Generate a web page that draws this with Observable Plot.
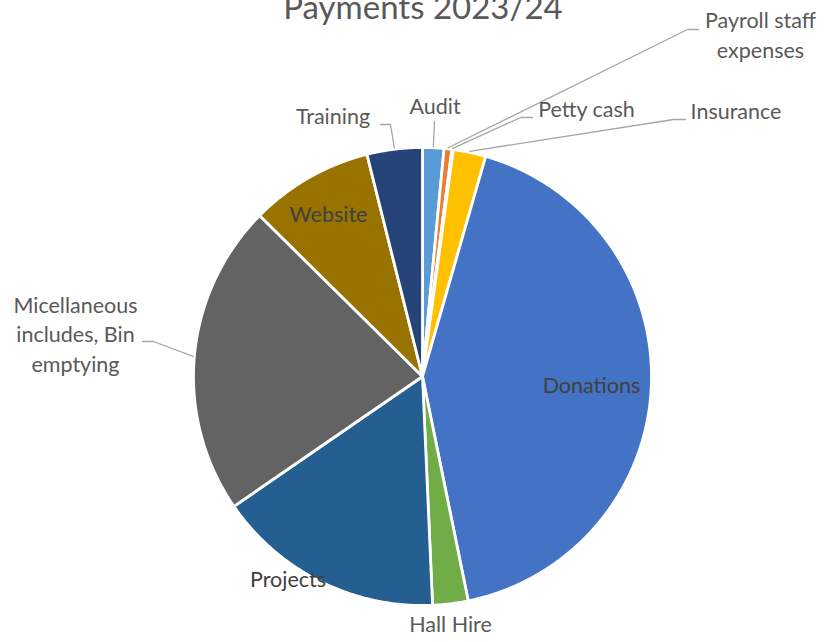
<!DOCTYPE html>
<html><head><meta charset="utf-8">
<script src="https://cdn.jsdelivr.net/npm/d3@7"></script>
<script src="https://cdn.jsdelivr.net/npm/@observablehq/plot@0.6"></script>
<style>body{margin:0;background:#fff;overflow:hidden}</style>
</head><body><div id="chart"></div>
<script>
// ---- data ----
const title = "Payments 2023/24";
const categories = ["Audit", "Payroll staff expenses", "Petty cash", "Insurance", "Donations",
  "Hall Hire", "Projects", "Micellaneous includes, Bin emptying", "Website", "Training"];
const shares = [1.5, 0.55, 0.1, 2.3, 42.35, 2.5, 16.1, 22.0, 8.7, 3.9];
const colors = ["#5B9BD5", "#ED7D31", "#A5A5A5", "#FFC000", "#4472C4",
  "#70AD47", "#255E91", "#636363", "#997300", "#264478"];
const labelTexts = ["Audit", "Payroll staff\nexpenses", "Petty cash", "Insurance", "Donations",
  "Hall Hire", "Projects", "Micellaneous\nincludes, Bin\nemptying", "Website", "Training"];

// ---- layout (pixels) ----
const W = 824, H = 642, CX = 422, CY = 376, R = 229;
const toX = px => (px - CX) / R, toY = py => (CY - py) / R;
// label baseline (last line) positions & text colour
const labelLayout = [
  {px: 434.5, py: 113, fill: "#595959"},
  {px: 760, py: 57, fill: "#595959"},
  {px: 586, py: 116, fill: "#595959"},
  {px: 735.5, py: 118, fill: "#595959"},
  {px: 591, py: 392, fill: "#404040"},
  {px: 450, py: 631.5, fill: "#595959"},
  {px: 287.5, py: 586.5, fill: "#404040"},
  {px: 75, py: 371, fill: "#595959"},
  {px: 328, py: 221.5, fill: "#404040"},
  {px: 332.5, py: 123.5, fill: "#595959"}
];
// leader-line elbows (pixels), first point is computed from the slice
const leaders = {
  0: [[434, 121]],
  1: [[687, 29], [698, 29]],
  2: [[520, 117], [532, 117]],
  3: [[673, 119], [685, 119]],
  9: [[390, 124], [380, 124]],
  7: [[153, 341], [142, 341]]
};

// ---- geometry from data ----
const total = d3.sum(shares);
let acc = 0;
const slicePts = [], mids = [];
categories.forEach((c, i) => {
  const a0 = acc / total * 360;
  acc += shares[i];
  const a1 = acc / total * 360;
  mids.push((a0 + a1) / 2);
  const n = Math.max(2, Math.ceil((a1 - a0) / 0.5));
  slicePts.push({k: c, x: 0, y: 0, color: colors[i]});
  for (let j = 0; j <= n; j++) {
    const a = (a0 + (a1 - a0) * j / n) * Math.PI / 180;
    slicePts.push({k: c, x: Math.sin(a), y: Math.cos(a), color: colors[i]});
  }
  slicePts.push({k: c, x: 0, y: 0, color: colors[i]});
});

const leaderPts = [];
Object.entries(leaders).forEach(([i, pts]) => {
  const a = mids[+i] * Math.PI / 180;
  leaderPts.push({k: i, x: Math.sin(a) * 1.005, y: Math.cos(a) * 1.005});
  pts.forEach(([px, py]) => leaderPts.push({k: i, x: toX(px), y: toY(py)}));
});

const labels = labelTexts.map((t, i) => ({t, x: toX(labelLayout[i].px), y: toY(labelLayout[i].py), fill: labelLayout[i].fill}));

const chart = Plot.plot({
  width: W, height: H, margin: 0,
  x: {domain: [toX(0), toX(W)], axis: null},
  y: {domain: [toY(H), toY(0)], axis: null},
  color: {type: "identity"},
  style: {fontFamily: "Lato, 'Open Sans', sans-serif", background: "#fff"},
  marks: [
    Plot.line(slicePts, {x: "x", y: "y", z: "k", fill: "color", stroke: "white", strokeWidth: 2.8, strokeLinejoin: "round"}),
    Plot.line(leaderPts, {x: "x", y: "y", z: "k", stroke: "#A6A6A6", strokeWidth: 1.3}),
    Plot.text(labels, {x: "x", y: "y", text: "t", fill: "fill", fontSize: 21.5, lineAnchor: "bottom", lineHeight: 1.36, textAnchor: "middle"}),
    Plot.text([title], {x: () => toX(422.5), y: () => toY(18.5), text: d => d, fill: "#595959", fontSize: 33, lineAnchor: "bottom", textAnchor: "middle"})
  ]
});
document.getElementById("chart").appendChild(chart);
</script>
</body></html>
